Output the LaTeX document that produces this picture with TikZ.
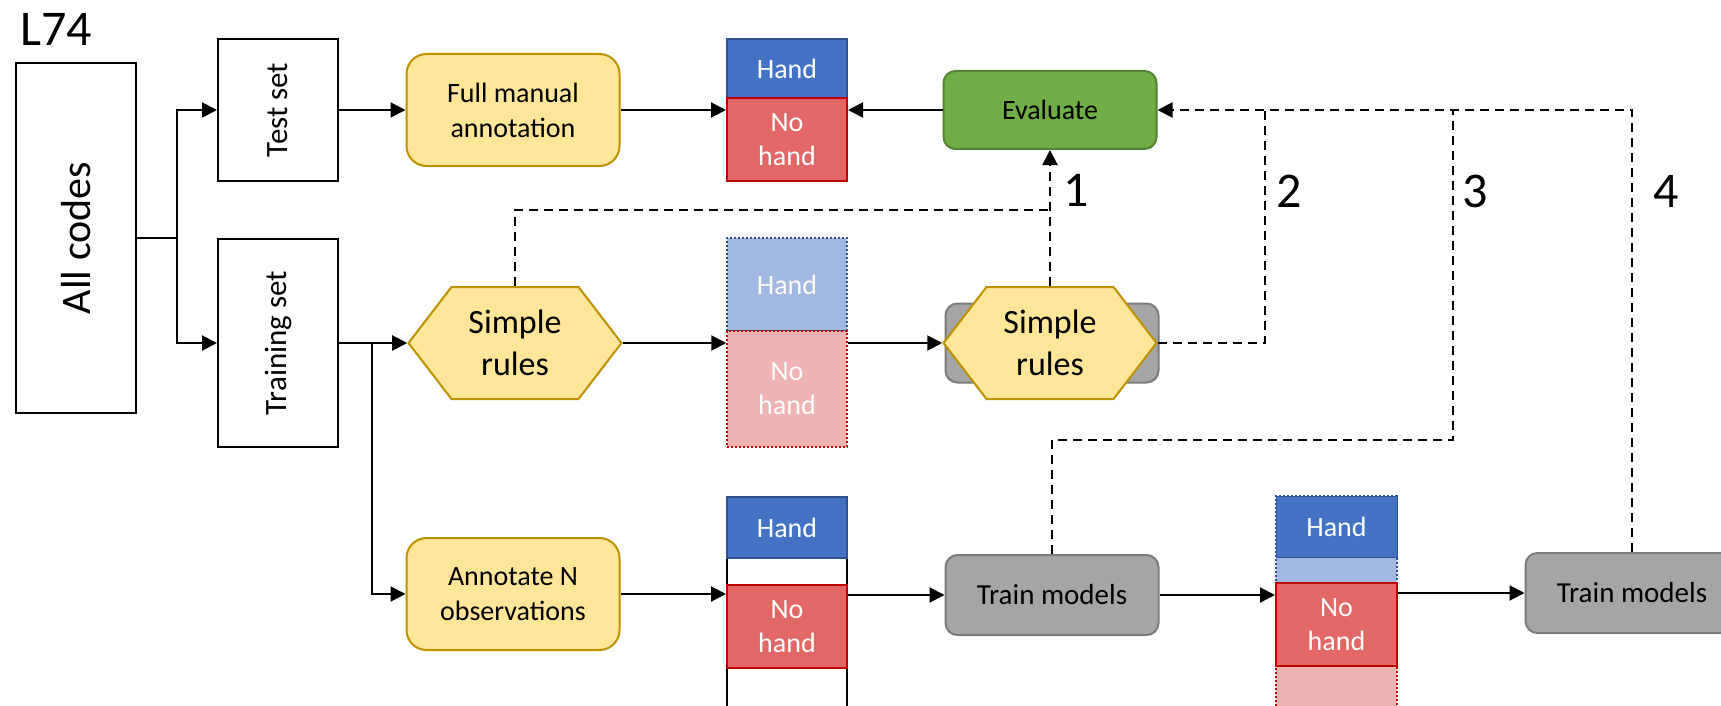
\documentclass[tikz,border=0pt]{standalone}
\usepackage{fontspec}
\setmainfont{Carlito}
\usepackage{xcolor}
\usetikzlibrary{arrows.meta,shapes.symbols}

\definecolor{handblue}{HTML}{4472C4}
\definecolor{handline}{HTML}{2F528F}
\definecolor{nohandred}{HTML}{E26868}
\definecolor{nohandline}{HTML}{C00000}
\definecolor{paleblue}{HTML}{A2B8E1}
\definecolor{palered}{HTML}{F0B3B3}
\definecolor{annoyellow}{HTML}{FFE699}
\definecolor{annoline}{HTML}{BF9000}
\definecolor{evalgreen}{HTML}{70AD47}
\definecolor{evalline}{HTML}{548235}
\definecolor{modelgrey}{HTML}{A5A5A5}
\definecolor{modelline}{HTML}{7B7B7B}

\begin{document}
\begin{tikzpicture}[x=1pt, y=-1pt,
    plainbox/.style={draw=black, line width=2pt, fill=white, inner sep=0pt},
    yellowbox/.style={draw=annoline, fill=annoyellow, line width=2pt, rounded corners=20pt, minimum width=213pt, minimum height=112pt, inner sep=0pt, align=center, font=\fontsize{28}{35}\selectfont},
    rulesbox/.style={signal, signal to=east and west, signal pointer angle=105, draw=annoline, fill=annoyellow, line width=2pt, minimum width=213pt, minimum height=112pt, inner xsep=16pt, inner ysep=0pt, align=center, font=\fontsize{34}{42}\selectfont},
    modelbox/.style={draw=modelline, fill=modelgrey, line width=2pt, rounded corners=12pt, minimum width=213pt, minimum height=80pt, inner sep=0pt, font=\fontsize{29}{34}\selectfont},
    labelbox/.style={inner sep=0pt, align=center, text=white, minimum width=120pt, font=\fontsize{28}{34}\selectfont},
    handbox/.style={labelbox, fill=handblue, draw=handline, line width=2pt},
    nohandbox/.style={labelbox, fill=nohandred, draw=nohandline, line width=2pt},
    palehand/.style={labelbox, fill=paleblue, draw=handline, line width=1.5pt, dash pattern=on 2pt off 2pt},
    palenohand/.style={labelbox, fill=palered, draw=nohandline, line width=1.5pt, dash pattern=on 2pt off 2pt},
    emptybox/.style={plainbox, minimum width=120pt},
    stepnum/.style={inner sep=0pt, font=\fontsize{50}{60}\selectfont}]
    \useasboundingbox (0,0) rectangle (1721,706);
    \clip (0,0) rectangle (1721,706);

    \node[stepnum] (title) at (56,29) {L74};
    \node[plainbox, minimum width=120pt, minimum height=350pt] (allcodes) at (76,238) {};
    \node[rotate=90, font=\fontsize{42}{50}\selectfont] (allcodestext) at (allcodes) {All codes};
    \node[plainbox, minimum width=120pt, minimum height=142pt] (testset) at (278,110) {};
    \node[rotate=90, font=\fontsize{31}{36}\selectfont] (testsettext) at (testset) {Test set};
    \node[plainbox, minimum width=120pt, minimum height=208pt] (trainset) at (278,343) {};
    \node[rotate=90, font=\fontsize{31}{36}\selectfont] (trainsettext) at (trainset) {Training set};

    \node[yellowbox] (fullmanual) at (513,110) {Full manual\\annotation};
    \node[rulesbox] (rules) at (515,343) {Simple\\rules};
    \node[yellowbox] (annotate) at (513,594) {Annotate N\\observations};

    \node[handbox, minimum height=59pt] (handA) at (787,68.5) {Hand};
    \node[nohandbox, minimum height=83pt] (nohandA) at (787,139.5) {No\\hand};
    \node[palehand, minimum height=93pt] (handB) at (787,284.5) {Hand};
    \node[palenohand, minimum height=116pt] (nohandB) at (787,389) {No\\hand};
    \node[emptybox, minimum height=27pt] (gapC) at (787,571.5) {};
    \node[emptybox, minimum height=44pt] (restC) at (787,690) {};
    \node[handbox, minimum height=61pt] (handC) at (787,527.5) {Hand};
    \node[nohandbox, minimum height=83pt] (nohandC) at (787,626.5) {No\\hand};
    \node[palehand, minimum width=121pt, minimum height=87pt] (handpale) at (1336.5,539.5) {};
    \node[palenohand, minimum width=121pt, minimum height=129pt] (nohandpale) at (1336.5,647.5) {};
    \node[handbox, minimum width=121pt, minimum height=61pt, line width=1pt] (handD) at (1336.5,526.5) {Hand};
    \node[nohandbox, minimum width=121pt, minimum height=83pt] (nohandD) at (1336.5,624.5) {No\\hand};

    \node[modelbox, fill=evalgreen, draw=evalline, minimum height=78pt, font=\fontsize{28}{34}\selectfont] (evaluate) at (1050,110) {Evaluate};
    \node[modelbox, minimum height=79pt] (rulesback) at (1052,343) {};
    \node[rulesbox] (rulesagain) at (1050,343) {Simple\\rules};
    \node[modelbox] (trainA) at (1052,595) {Train models};
    \node[modelbox] (trainB) at (1632,593) {Train models};

    \node[stepnum] (one) at (1076,190) {1};
    \node[stepnum] (two) at (1289,191) {2};
    \node[stepnum] (three) at (1475,191) {3};
    \node[stepnum] (four) at (1666,191) {4};

    \tikzset{flow/.style={line width=2pt, -{Triangle[length=15pt,width=15pt]}}}
    \tikzset{feedback/.style={line width=2pt, dash pattern=on 9pt off 6pt}}

    \draw[flow] (allcodes.east) -- ++(40,0) |- (testset.west);
    \draw[flow] (allcodes.east) -- ++(40,0) |- (trainset.west);
    \draw[flow] (testset.east) -- (fullmanual.west);
    \draw[flow] (trainset.east) -- (rules.west);
    \draw[flow] (trainset.east) -- ++(33,0) |- (annotate.west);
    \draw[flow] (fullmanual.east) -- (fullmanual.east -| nohandA.west);
    \draw[flow] (evaluate.west) -- (evaluate.west -| nohandA.east);
    \draw[flow] (rules.east) -- (rules.east -| nohandB.west);
    \draw[flow] (rulesagain.west -| nohandB.east) -- (rulesagain.west);
    \draw[flow] (annotate.east) -- (annotate.east -| nohandC.west);
    \draw[flow] (trainA.west -| nohandC.east) -- (trainA.west);
    \draw[flow] (trainA.east) -- (trainA.east -| nohandD.west);
    \draw[flow] (trainB.west -| nohandD.east) -- (trainB.west);

    \coordinate (meet) at (1050,210);
    \coordinate (top2) at (1265,110);
    \coordinate (bend3) at (1453,440);
    \coordinate (top3) at (1453,110);
    \draw[feedback] (rules.north) |- (meet);
    \draw[flow, feedback] (rulesagain.north) -- (evaluate.south);
    \draw[feedback] (rulesagain.east) -| (top2);
    \draw[feedback] (trainA.north) |- (bend3) -- (top3);
    \draw[flow, feedback] (trainB.north) |- (evaluate.east);

\end{tikzpicture}
\end{document}
